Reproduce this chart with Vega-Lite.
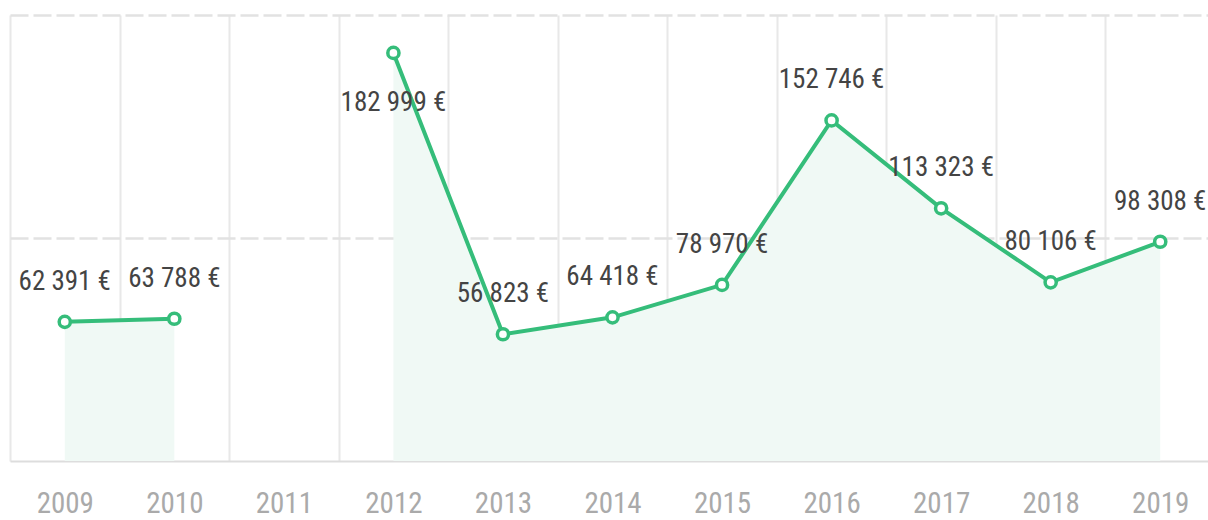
{
  "$schema": "https://vega.github.io/schema/vega-lite/v6.json",
  "width": 1198,
  "height": 446,
  "autosize": "none",
  "padding": {"left": 10, "top": 15, "right": 0, "bottom": 59},
  "config": {
    "view": {"stroke": null},
    "locale": {"number": {"decimal": ",", "thousands": " ", "grouping": [3], "currency": ["", " €"]}}
  },
  "data": {
    "values": [
      {"year": "2009", "value": 62391},
      {"year": "2010", "value": 63788},
      {"year": "2011", "value": null},
      {"year": "2012", "value": 182999},
      {"year": "2013", "value": 56823},
      {"year": "2014", "value": 64418},
      {"year": "2015", "value": 78970},
      {"year": "2016", "value": 152746},
      {"year": "2017", "value": 113323},
      {"year": "2018", "value": 80106},
      {"year": "2019", "value": 98308}
    ]
  },
  "encoding": {
    "x": {
      "field": "year",
      "type": "ordinal",
      "scale": {"type": "band", "paddingInner": 0, "paddingOuter": 0, "range": [0, 1205]},
      "axis": {
        "title": null,
        "tickBand": "extent",
        "grid": true,
        "gridColor": "#e8e8e8",
        "gridWidth": 2,
        "ticks": false,
        "domainColor": "#dddddd",
        "domainWidth": 2,
        "labelFontSize": 29,
        "labelColor": "#aaaaaa",
        "labelPadding": 28,
        "labelAngle": 0,
        "labelFont": "Roboto Condensed"
      }
    },
    "y": {
      "field": "value",
      "type": "quantitative",
      "scale": {"domain": [0, 200000], "nice": false},
      "axis": {
        "title": null,
        "labels": false,
        "ticks": false,
        "domain": false,
        "values": [100000, 200000],
        "gridDash": [18, 5],
        "gridColor": "#e2e2e2",
        "gridWidth": 2.5
      }
    }
  },
  "layer": [
    {"mark": {"type": "area", "color": "#f0f9f5", "invalid": "break-paths-show-domains"}},
    {"mark": {"type": "line", "color": "#35bd7a", "strokeWidth": 4, "invalid": "break-paths-show-domains"}},
    {"mark": {"type": "point", "filled": true, "fill": "white", "stroke": "#35bd7a", "strokeWidth": 3.5, "size": 125, "opacity": 1}},
    {
      "transform": [{"filter": "datum.value != null && datum.value < 180000"}],
      "mark": {"type": "text", "dy": -32, "baseline": "alphabetic", "fontSize": 27, "color": "#444444", "font": "Roboto Condensed"},
      "encoding": {"text": {"field": "value", "type": "quantitative", "format": "$,d"}}
    },
    {
      "transform": [{"filter": "datum.value != null && datum.value >= 180000"}],
      "mark": {"type": "text", "dy": 58, "baseline": "alphabetic", "fontSize": 27, "color": "#444444", "font": "Roboto Condensed"},
      "encoding": {"text": {"field": "value", "type": "quantitative", "format": "$,d"}}
    }
  ]
}
